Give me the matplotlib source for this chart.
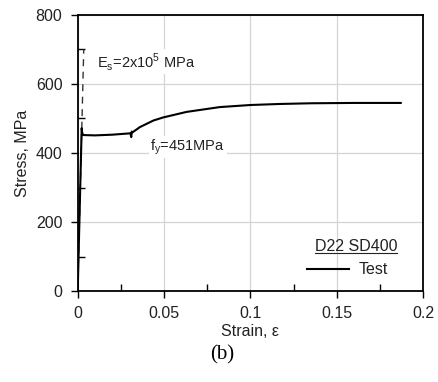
import matplotlib
matplotlib.use('Agg')
import matplotlib.pyplot as plt
from matplotlib.ticker import MultipleLocator

plt.rcParams['font.family'] = ['Liberation Sans', 'DejaVu Sans']

# test curve
strain = [0, 0.0023, 0.0026, 0.0032, 0.01, 0.02, 0.0305, 0.031, 0.0313, 0.0318,
          0.036, 0.0438, 0.0495, 0.063, 0.0823, 0.1, 0.117, 0.135, 0.16, 0.187]
stress = [0, 472, 458, 452, 451, 453, 457, 446, 462, 460,
          475, 494, 503, 519, 533, 539, 542, 544, 545, 545]

# elastic line E_s = 2x10^5 MPa
E_s = 2e5
elastic_strain = [0.0, 0.0035]
elastic_stress = [E_s * e for e in elastic_strain]

txt = '#222222'

fig = plt.figure(figsize=(4.39, 3.82), dpi=100)
ax = fig.add_axes([0.177, 0.238, 0.787, 0.723])

ax.plot(elastic_strain, elastic_stress, color='#333333', lw=1.0, ls=(0, (5, 4)))
line, = ax.plot(strain, stress, color='black', lw=1.5, label='Test')

ax.set_xlim(0, 0.2)
ax.set_ylim(0, 800)
ax.xaxis.set_major_locator(MultipleLocator(0.05))
ax.xaxis.set_minor_locator(MultipleLocator(0.025))
ax.yaxis.set_major_locator(MultipleLocator(200))
ax.yaxis.set_minor_locator(MultipleLocator(100))
ax.set_xticks([0, 0.05, 0.1, 0.15, 0.2])
ax.set_xticklabels(['0', '0.05', '0.1', '0.15', '0.2'])
ax.tick_params(which='major', direction='out', length=5, width=1, labelsize=11.5,
               pad=6, labelcolor=txt)
ax.tick_params(which='minor', direction='in', length=5, width=1)
ax.grid(True, which='major', color='#d4d4d4', lw=0.9)
ax.set_axisbelow(True)
for s in ax.spines.values():
    s.set_linewidth(1.3)

ax.set_xlabel('Strain, ε', fontsize=11.5, labelpad=2, color=txt)
ax.set_ylabel('Stress, MPa', fontsize=11.5, labelpad=4, color=txt)

ax.text(0.0112, 664, 'E$_\\mathregular{s}$=2x10$^\\mathregular{5}$ MPa', fontsize=10.5,
        va='center', ha='left', color=txt, bbox=dict(fc='white', ec='none', pad=1))
ax.text(0.042, 417, 'f$_\\mathregular{y}$=451MPa', fontsize=10.5, color=txt,
        va='center', ha='left', bbox=dict(fc='white', ec='none', pad=1))

# legend with underlined title
title = ax.text(0.686, 0.16, 'D22 SD400', transform=ax.transAxes, fontsize=11.5,
                va='center', ha='left', color=txt)
fig.canvas.draw()
bb = title.get_window_extent().transformed(ax.transAxes.inverted())
ax.plot([bb.x0, bb.x1], [bb.y0 + 0.005, bb.y0 + 0.005], transform=ax.transAxes,
        color=txt, lw=0.8, clip_on=False)
leg = ax.legend(handles=[line], loc='center left', bbox_to_anchor=(0.665, 0.077),
                frameon=False, fontsize=11.5, handlelength=2.6, handletextpad=0.6,
                borderpad=0, borderaxespad=0)
for t in leg.get_texts():
    t.set_color(txt)

fig.text(0.506, 0.071, '(b)', family='Liberation Serif', fontsize=15,
         ha='center', va='center')

fig.savefig('out.png', dpi=100)
